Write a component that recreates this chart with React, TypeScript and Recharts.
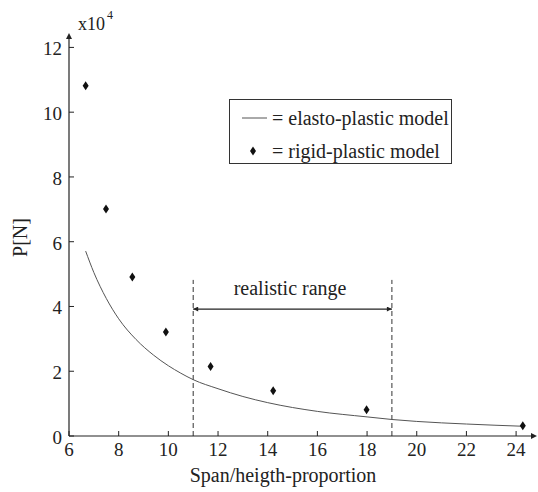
import React from "react";
import {
  ComposedChart,
  Line,
  Scatter,
  XAxis,
  YAxis,
  ReferenceLine,
  ReferenceDot,
  Label,
} from "recharts";

// elasto-plastic model (curve), P in 10^4 N
const curveX = [6.67, 7.0, 7.5, 8.0, 8.7, 9.4, 10.0, 10.5, 11.0, 12.0, 13.0, 14.0, 16.0, 18.0, 19.0, 20.0, 22.0, 24.3];
const curveP = [5.71, 5.05, 4.25, 3.62, 2.98, 2.5, 2.17, 1.94, 1.74, 1.46, 1.22, 1.03, 0.76, 0.59, 0.51, 0.45, 0.37, 0.3];

// rigid-plastic model (diamonds)
const rigidX = [6.67, 7.49, 8.55, 9.9, 11.7, 14.22, 17.98, 24.27];
const rigidP = [10.82, 7.01, 4.91, 3.21, 2.15, 1.4, 0.81, 0.32];

const xTicks = [6, 8, 10, 12, 14, 16, 18, 20, 22, 24];
const yTicks = [0, 2, 4, 6, 8, 10, 12];

const rangeFrom = 11;
const rangeTo = 19;

const curve = curveX.map((x, i) => ({ x, y: curveP[i] }));
const rigid = rigidX.map((x, i) => ({ x, y: rigidP[i] }));

const serif = "Liberation Serif, DejaVu Serif, serif";
const ink = "#222";

function YTick(props: any) {
  const { x, y, payload } = props;
  return (
    <g>
      <line x1={x} y1={y} x2={x + 5} y2={y} stroke={ink} strokeWidth={1} />
      <text x={x - 7} y={y + 8} textAnchor="end" fontSize={19} fill={ink} style={{ fontFamily: serif }}>
        {payload.value}
      </text>
    </g>
  );
}

function XTick(props: any) {
  const { x, y, payload } = props;
  return (
    <g>
      <line x1={x} y1={y} x2={x} y2={y - 5} stroke={ink} strokeWidth={1} />
      <text x={x} y={y + 20} textAnchor="middle" fontSize={19} fill={ink} style={{ fontFamily: serif }}>
        {payload.value}
      </text>
    </g>
  );
}

function Diamond(props: any) {
  const { cx, cy } = props;
  if (cx == null || cy == null) return null;
  return (
    <path
      d={`M${cx},${cy - 4.5} L${cx + 3},${cy} L${cx},${cy + 4.5} L${cx - 3},${cy} Z`}
      fill="#111"
    />
  );
}

export default function App() {
  return (
    <div style={{ position: "absolute", left: 0, top: 0, width: 538, height: 492, background: "#fff", fontFamily: serif }}>
      <ComposedChart width={538} height={492} margin={{ top: 39, right: 7, bottom: 26, left: 0 }}
        style={{ fontFamily: serif }}>
        <defs>
          <marker id="axisArrow" viewBox="0 0 10 10" refX="0" refY="5" markerWidth="7" markerHeight="6"
            markerUnits="userSpaceOnUse" orient="auto-start-reverse">
            <path d="M0,0 L10,5 L0,10 z" fill={ink} />
          </marker>
          <marker id="tip" viewBox="0 0 10 10" refX="10" refY="5" markerWidth="6" markerHeight="5"
            markerUnits="userSpaceOnUse" orient="auto-start-reverse">
            <path d="M0,0 L10,5 L0,10 z" fill={ink} />
          </marker>
        </defs>
        <XAxis
          type="number"
          dataKey="x"
          domain={[6, 24.6]}
          ticks={xTicks}
          interval={0}
          height={30}
          tickLine={false}
          tickSize={0}
          tickMargin={0}
          tick={<XTick />}
          axisLine={{ stroke: ink, strokeWidth: 1.2, markerEnd: "url(#axisArrow)" }}
        >
          <Label value="Span/heigth-proportion" position="center" dx={-17} dy={24}
            fontSize={20} fill={ink} style={{ fontFamily: serif }} />
        </XAxis>
        <YAxis
          type="number"
          dataKey="y"
          domain={[0, 12.26]}
          ticks={yTicks}
          interval={0}
          width={69}
          tickLine={false}
          tickSize={0}
          tickMargin={0}
          tick={<YTick />}
          axisLine={{ stroke: ink, strokeWidth: 1.2, markerStart: "url(#axisArrow)" }}
        >
          <Label value="P[N]" position="center" angle={-90} dx={-15}
            fontSize={20} fill={ink} style={{ fontFamily: serif }} />
          <Label
            content={() => (
              <text x={78} y={30} fontSize={18} fill={ink} style={{ fontFamily: serif }}>
                x10
                <tspan dx={2} dy={-11} fontSize={12}>4</tspan>
              </text>
            )}
          />
        </YAxis>

        <ReferenceLine segment={[{ x: rangeFrom, y: 0 }, { x: rangeFrom, y: 4.82 }]}
          stroke="#333" strokeWidth={1} strokeDasharray="5 3" />
        <ReferenceLine segment={[{ x: rangeTo, y: 0 }, { x: rangeTo, y: 4.82 }]}
          stroke="#333" strokeWidth={1} strokeDasharray="5 3" />
        <ReferenceLine segment={[{ x: rangeFrom, y: 3.92 }, { x: rangeTo, y: 3.92 }]}
          stroke={ink} strokeWidth={1.2} markerStart="url(#tip)" markerEnd="url(#tip)" />
        <ReferenceDot x={14.9} y={4.57} r={0} fill="none" stroke="none"
          label={{ value: "realistic range", position: "center", fontSize: 20, fill: ink, style: { fontFamily: serif } }} />

        <Line data={curve} dataKey="y" type="monotone" stroke="#555" strokeWidth={1}
          dot={false} isAnimationActive={false} />
        <Scatter data={rigid} dataKey="y" shape={<Diamond />} isAnimationActive={false} />
      </ComposedChart>

      <div
        style={{
          position: "absolute",
          left: 229,
          top: 99,
          width: 223,
          height: 65,
          border: "1px solid #333",
          boxSizing: "border-box",
          fontFamily: serif,
          fontSize: 20,
          color: ink,
          background: "#fff",
        }}
      >
        <div style={{ position: "absolute", left: 0, top: 6, width: 221, height: 24 }}>
          <svg width={30} height={24} style={{ position: "absolute", left: 12, top: 0 }}>
            <line x1={0} y1={12} x2={25} y2={12} stroke="#555" strokeWidth={1} />
          </svg>
          <span style={{ position: "absolute", left: 42, top: 0, lineHeight: "24px", whiteSpace: "nowrap" }}>
            = elasto-plastic model
          </span>
        </div>
        <div style={{ position: "absolute", left: 0, top: 39, width: 221, height: 24 }}>
          <svg width={30} height={24} style={{ position: "absolute", left: 12, top: 0 }}>
            <path d="M11,7.5 L14,12 L11,16.5 L8,12 Z" fill="#111" />
          </svg>
          <span style={{ position: "absolute", left: 42, top: 0, lineHeight: "24px", whiteSpace: "nowrap" }}>
            = rigid-plastic model
          </span>
        </div>
      </div>
    </div>
  );
}
